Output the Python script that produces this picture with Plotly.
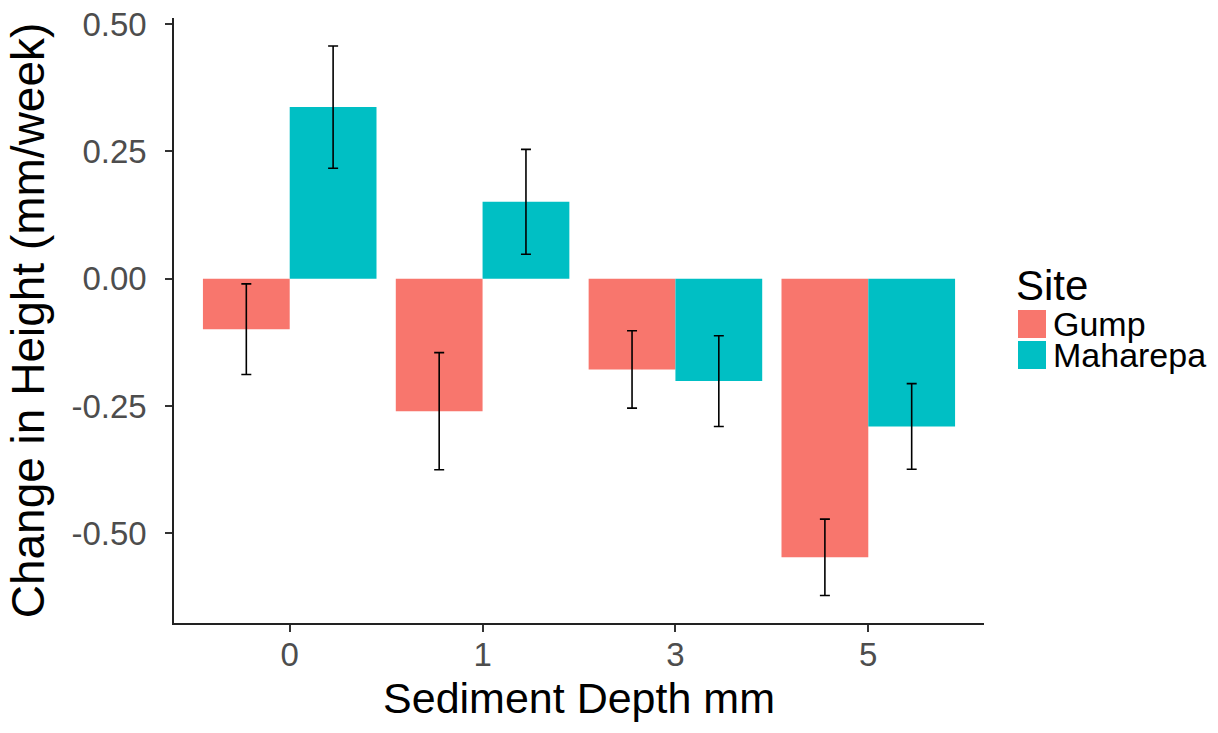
import plotly.graph_objects as go

# ---- data ----
depths = ["0", "1", "3", "5"]
sites = ["Gump", "Maharepa"]
gump_mean = [-0.099, -0.260, -0.178, -0.547]
gump_se = [0.089, 0.115, 0.076, 0.075]
maharepa_mean = [0.337, 0.151, -0.201, -0.290]
maharepa_se = [0.120, 0.103, 0.089, 0.084]
colors = {"Gump": "#F8766D", "Maharepa": "#00BFC4"}

W, H = 1218, 733
L, R, T, B = 174, 234, 18, 110
FONT = "Liberation Sans, Arial, sans-serif"

fig = go.Figure()
for name, mean, se in [("Gump", gump_mean, gump_se), ("Maharepa", maharepa_mean, maharepa_se)]:
    fig.add_trace(go.Bar(
        x=depths, y=mean, name=name,
        marker=dict(color=colors[name], line=dict(width=0)),
        error_y=dict(type="data", array=se, visible=True, color="black", thickness=1.6, width=5),
        showlegend=False,
    ))

# manual legend (large ggplot-style keys)
pw, ph = W - L - R, H - T - B
def px(x):
    return (x - L) / pw
def py(y):
    return (H - B - y) / ph

annotations = [dict(text="Site", x=px(1014), y=py(286), xref="paper", yref="paper",
                    xanchor="left", yanchor="middle", showarrow=False,
                    font=dict(family=FONT, size=42, color="black"))]
shapes = []
for i, name in enumerate(sites):
    top = 310 + i * 31
    shapes.append(dict(type="rect", xref="paper", yref="paper",
                       x0=px(1018), x1=px(1046), y0=py(top + 28), y1=py(top),
                       fillcolor=colors[name], line=dict(width=0)))
    annotations.append(dict(text=name, x=px(1051), y=py(top + 14), xref="paper", yref="paper",
                            xanchor="left", yanchor="middle", showarrow=False,
                            font=dict(family=FONT, size=34, color="black")))

fig.update_layout(
    width=W, height=H,
    margin=dict(l=L, r=R, t=T, b=B),
    paper_bgcolor="white", plot_bgcolor="white",
    barmode="group", bargap=0.1, bargroupgap=0,
    font=dict(family=FONT),
    annotations=annotations, shapes=shapes,
    xaxis=dict(
        type="category", categoryorder="array", categoryarray=depths,
        range=[-0.6, 3.6], showgrid=False, zeroline=False, automargin=False,
        showline=True, linecolor="#222222", linewidth=1.5,
        ticks="outside", ticklen=7, tickwidth=1.5, tickcolor="#333333",
        tickfont=dict(family=FONT, size=33, color="#4d4d4d"),
        ticklabelstandoff=-5,
        title=dict(text="Sediment Depth mm", font=dict(family=FONT, size=43, color="black"), standoff=11),
    ),
    yaxis=dict(
        range=[-0.676, 0.512], showgrid=False, zeroline=False, automargin=False,
        tickvals=[-0.5, -0.25, 0, 0.25, 0.5], ticktext=["-0.50", "-0.25", "0.00", "0.25", "0.50"],
        showline=True, linecolor="#222222", linewidth=1.5,
        ticks="outside", ticklen=7, tickwidth=1.5, tickcolor="#333333",
        tickfont=dict(family=FONT, size=33, color="#4d4d4d"),
        ticklabelstandoff=12,
        title=dict(text="Change in Height (mm/week)", font=dict(family=FONT, size=46, color="black"), standoff=12),
    ),
)

fig.write_html("out.html")
